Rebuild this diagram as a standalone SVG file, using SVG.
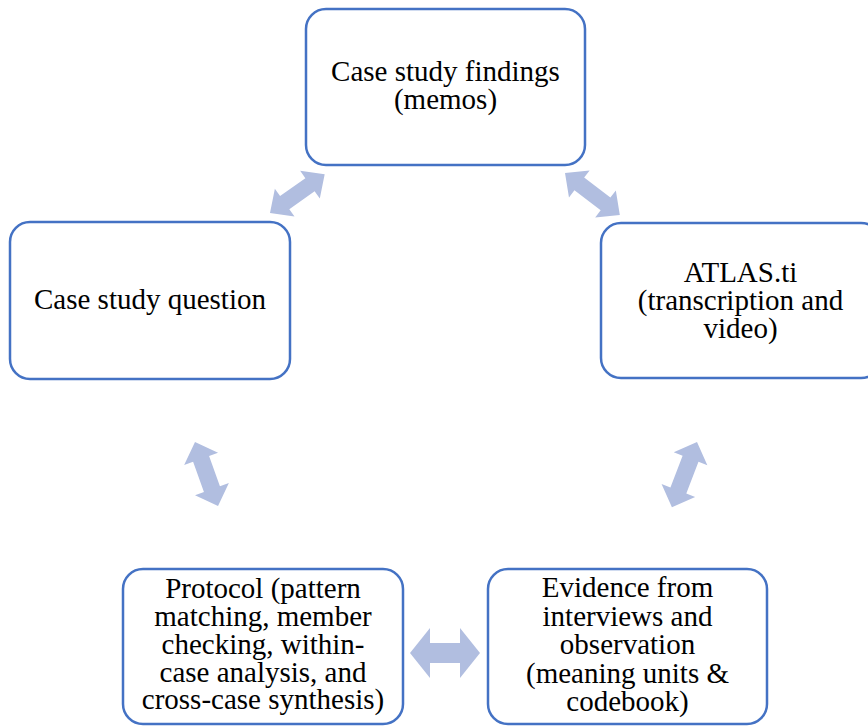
<svg xmlns="http://www.w3.org/2000/svg" width="868" height="727" viewBox="0 0 868 727">
<style>
.box{fill:#fff;stroke:#4472C4;stroke-width:2.5}
text{font-family:'Liberation Serif','Times New Roman','DejaVu Serif',serif;font-size:29px;fill:#000;text-anchor:middle}
.arr{fill:#B1BEE0}
</style>
<rect width="868" height="727" fill="#fff"/>
<g id="connectors">
<path class="arr" transform="translate(270,213) rotate(-35.3)" d="M0,0 L18,-17 L18,-8 L49,-8 L49,-17 L67,0 L49,17 L49,8 L18,8 L18,17 Z"/>
<path class="arr" transform="translate(565,173) rotate(37.4)" d="M0,0 L18,-17 L18,-8 L51,-8 L51,-17 L69,0 L51,17 L51,8 L18,8 L18,17 Z"/>
<path class="arr" transform="translate(195,442) rotate(70.2)" d="M0,0 L18,-18 L18,-8.5 L50,-8.5 L50,-18 L68,0 L50,18 L50,8.5 L18,8.5 L18,18 Z"/>
<path class="arr" transform="translate(697,442) rotate(111)" d="M0,0 L18,-18 L18,-8.5 L52,-8.5 L52,-18 L70,0 L52,18 L52,8.5 L18,8.5 L18,18 Z"/>
<path class="arr" transform="translate(410,653)" d="M0,0 L20,-25 L20,-10 L50,-10 L50,-25 L70,0 L50,25 L50,10 L20,10 L20,25 Z"/>
</g>
<g id="node-findings">
<rect class="box" x="306" y="9" width="279" height="156" rx="20"/>
<text font-family="Liberation Serif, serif" x="445.5" y="81">Case study findings</text>
<text font-family="Liberation Serif, serif" x="445.5" y="109">(memos)</text>
</g>
<g id="node-question">
<rect class="box" x="10" y="222" width="280" height="157" rx="20"/>
<text font-family="Liberation Serif, serif" x="150" y="309">Case study question</text>
</g>
<g id="node-atlas">
<rect class="box" x="601" y="223" width="280" height="155" rx="20"/>
<text font-family="Liberation Serif, serif" x="740.5" y="282">ATLAS.ti</text>
<text font-family="Liberation Serif, serif" x="740.5" y="310">(transcription and</text>
<text font-family="Liberation Serif, serif" x="740.5" y="338">video)</text>
</g>
<g id="node-protocol">
<rect class="box" x="123" y="569" width="280" height="155" rx="20"/>
<text font-family="Liberation Serif, serif" x="263" y="598">Protocol (pattern</text>
<text font-family="Liberation Serif, serif" x="263" y="626">matching, member</text>
<text font-family="Liberation Serif, serif" x="263" y="654">checking, within-</text>
<text font-family="Liberation Serif, serif" x="263" y="682">case analysis, and</text>
<text font-family="Liberation Serif, serif" x="263" y="709">cross-case synthesis)</text>
</g>
<g id="node-evidence">
<rect class="box" x="488" y="569" width="279" height="155" rx="20"/>
<text font-family="Liberation Serif, serif" x="627.5" y="597">Evidence from</text>
<text font-family="Liberation Serif, serif" x="627.5" y="626">interviews and</text>
<text font-family="Liberation Serif, serif" x="627.5" y="654">observation</text>
<text font-family="Liberation Serif, serif" x="627.5" y="683">(meaning units &amp;</text>
<text font-family="Liberation Serif, serif" x="627.5" y="711">codebook)</text>
</g>
</svg>
